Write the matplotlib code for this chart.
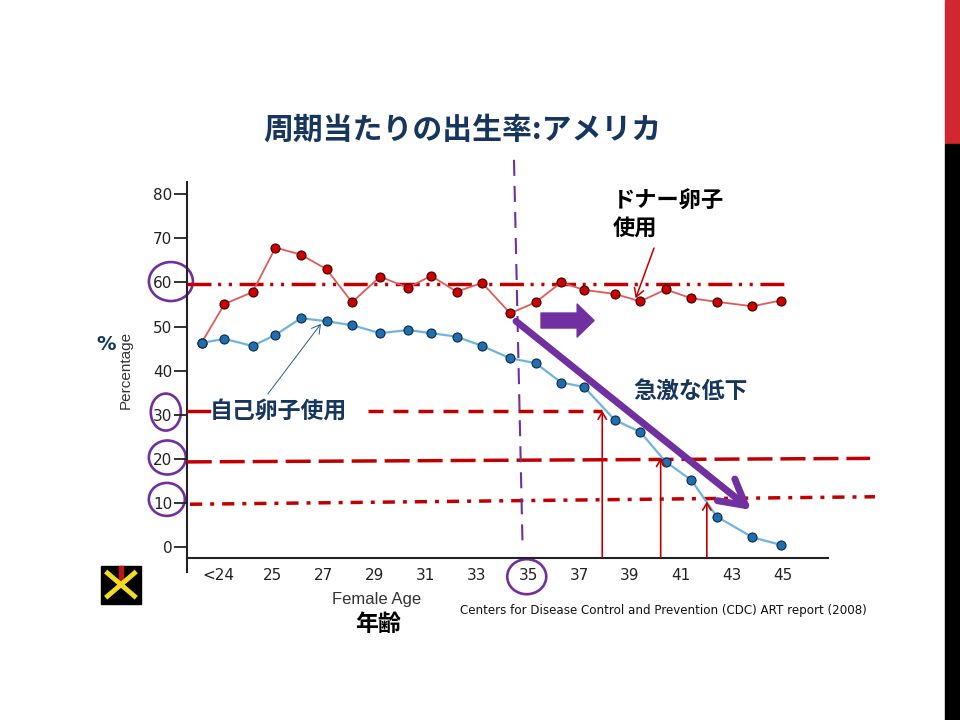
import matplotlib.pyplot as plt
from matplotlib.patches import Ellipse, Rectangle, FancyArrowPatch
from matplotlib.lines import Line2D

plt.rcParams['font.family'] = ['Noto Sans CJK JP', 'DejaVu Sans']

# age positions (it is not evenly spaced)
age_pos = [22.2, 23.1, 24.2, 25.1, 26.1, 27.1, 28.1, 29.2, 30.3, 31.2, 32.2, 33.2,
           34.3, 35.3, 36.3, 37.2, 38.4, 39.4, 40.4, 41.4, 42.4, 43.8, 44.9]
donor_eggs = [46.3, 55.1, 57.8, 67.9, 66.3, 63.0, 55.5, 61.3, 58.8, 61.5, 57.9, 59.9,
              53.0, 55.5, 60.0, 58.3, 57.4, 55.7, 58.4, 56.4, 55.6, 54.6, 55.9]
own_eggs = [46.3, 47.2, 45.6, 48.1, 51.9, 51.2, 50.3, 48.5, 49.2, 48.5, 47.7, 45.6,
            42.8, 41.7, 37.3, 36.3, 28.8, 26.1, 19.3, 15.2, 6.9, 2.2, 0.5]

xtick_pos = [22.85, 25, 27, 29, 31, 33, 35, 37, 39, 41, 43, 45]
xtick_labels = ['<24', '25', '27', '29', '31', '33', '35', '37', '39', '41', '43', '45']
ytick_pos = [0, 10, 20, 30, 40, 50, 60, 70, 80]

navy = '#17365d'
dred = '#c00000'
purple = '#7030a0'
tickfont = ['DejaVu Sans']

fig = plt.figure(figsize=(9.6, 7.2), dpi=100)
ax = fig.add_axes([0.1945, 0.225, 0.668, 0.5222])
ax.set_xlim(21.62, 46.76)
ax.set_ylim(-2.49, 82.77)

ax.plot(age_pos, donor_eggs, color='#e05a5a', lw=1.3, marker='o', ms=6.5,
        mfc='#cc0000', mec='#3a0000', mew=0.8, zorder=4)
ax.plot(age_pos, own_eggs, color='#6fb4e0', lw=1.6, marker='o', ms=6.5,
        mfc='#1f6fb0', mec='#0a2a45', mew=0.8, zorder=4)

for s in ['top', 'right']:
    ax.spines[s].set_visible(False)
for s in ['left', 'bottom']:
    ax.spines[s].set_linewidth(1.5)
    ax.spines[s].set_color('#222222')
ax.spines['left'].set_bounds(-5.7, 82.77)

ax.set_yticks(ytick_pos)
ax.set_yticklabels([str(v) for v in ytick_pos], family=tickfont, fontsize=11, color='#222222')
ax.set_xticks(xtick_pos)
ax.set_xticklabels(xtick_labels, family=tickfont, fontsize=11, color='#222222')
ax.tick_params(axis='y', length=9.5, width=1.3, pad=1, color='#222222')
ax.tick_params(axis='x', length=0, pad=7)

# reference lines
ax.plot([21.62, 45.27], [59.6, 59.6], color=dred, lw=2.5, dashes=(6.9, 1.9, 0.9, 2.2, 0.9, 2.2),
        zorder=3)
ax.plot([21.62, 22.49], [30.9, 30.9], color=dred, lw=2.5, zorder=3)
ax.plot([28.73, 37.9], [30.9, 30.9], color=dred, lw=2.5, dashes=(4.3, 2.9), zorder=3)
ax.plot([21.62, 48.41], [19.3, 20.1], color=dred, lw=2.5, dashes=(7.2, 2.3), zorder=3,
        clip_on=False)
ax.plot([21.75, 48.6], [9.7, 11.4], color=dred, lw=2.5, dashes=(3.5, 2.3, 1.15, 2.3),
        zorder=3, clip_on=False)

# age 35 marker
ax.plot([34.45, 34.79], [87.8, -0.7], color=purple, lw=1.5, dashes=(7.7, 4.8), clip_on=False,
        zorder=5)

# circles
for cx, cy, w, h in [(21.0, 60.2, 1.725, 8.84), (20.8, 30.6, 1.18, 8.39),
                     (20.86, 20.3, 1.45, 7.71), (20.84, 10.8, 1.41, 7.48),
                     (34.95, -6.73, 1.53, 7.94)]:
    ax.add_patch(Ellipse((cx, cy), w, h, fill=False, ec=purple, lw=1.9, clip_on=False))

# arrows
ax.add_patch(FancyArrowPatch((34.53, 51.2), (43.75, 8.4),
                             arrowstyle='->,head_length=0.9,head_width=0.5', mutation_scale=20,
                             color=purple, lw=5, shrinkA=0, shrinkB=0, zorder=6))
ax.add_patch(FancyArrowPatch((35.51, 51.36), (37.59, 51.36),
                             arrowstyle='simple,head_length=12.2,head_width=23.8,tail_width=10.8',
                             mutation_scale=1, color=purple, shrinkA=0, shrinkB=0, zorder=6))
for x, y in [(37.91, 30.9), (40.2, 20.2), (42.01, 10.3)]:
    ax.add_patch(FancyArrowPatch((x, -2.49), (x, y), arrowstyle='->,head_length=5,head_width=3',
                                 mutation_scale=1, color=dred, lw=1.2, shrinkA=0, shrinkB=0,
                                 zorder=5))
ax.add_patch(FancyArrowPatch((39.94, 67.8), (39.22, 56.4),
                             arrowstyle='->,head_length=6,head_width=3.5', mutation_scale=1,
                             color=dred, lw=1.1, shrinkA=0, shrinkB=0, zorder=5))
ax.add_patch(FancyArrowPatch((24.8, 34.7), (26.88, 50.6),
                             arrowstyle='->,head_length=6,head_width=3.5', mutation_scale=1,
                             color='#1f5f8f', lw=0.7, shrinkA=0, shrinkB=0, zorder=5))

# annotations
ax.text(38.33, 81.0, 'ドナー卵子\n使用', fontsize=16, fontweight='bold', color='black',
        va='top', ha='left', linespacing=1.25)
ax.text(22.53, 30.6, '自己卵子使用', fontsize=16.5, fontweight='bold', color=navy,
        va='center', ha='left')
ax.text(39.12, 35.1, '急激な低下', fontsize=16.5, fontweight='bold', color=navy,
        va='center', ha='left')

fig.text(0.482, 0.8194, '周期当たりの出生率:アメリカ', fontsize=21.5, fontweight='bold',
         color=navy, ha='center', va='center')
fig.text(0.1104, 0.5222, '%', fontsize=14, fontweight='bold', color=navy,
         ha='center', va='center', family=['DejaVu Sans'])
fig.text(0.1313, 0.4861, 'Percentage', fontsize=11, color='#333333', rotation=90,
         ha='center', va='center', family=['Liberation Sans', 'DejaVu Sans'])
fig.text(0.3927, 0.168, 'Female Age', fontsize=12, color='#333333', ha='center', va='center',
         family=['Liberation Sans', 'DejaVu Sans'])
fig.text(0.394, 0.132, '年齢', fontsize=16.5, fontweight='bold', color='black',
         ha='center', va='center')
fig.text(0.479, 0.1514, 'Centers for Disease Control and Prevention (CDC) ART report (2008)',
         fontsize=8.6, color='#111111', ha='left', va='center', family=['DejaVu Sans'])

# small logo
fig.add_artist(Rectangle((0.1052, 0.1611), 0.0417, 0.0528, transform=fig.transFigure,
                         color='black'))
fig.add_artist(Rectangle((0.1235, 0.195), 0.005, 0.019, transform=fig.transFigure,
                         color='#c0141c'))
fig.add_artist(Line2D([0.112, 0.14], [0.204, 0.172], transform=fig.transFigure,
                      color='#f2dc20', lw=3.5))
fig.add_artist(Line2D([0.112, 0.14], [0.172, 0.204], transform=fig.transFigure,
                      color='#f2dc20', lw=3.5))

# slide side bars
fig.add_artist(Rectangle((0.9844, 0.8), 0.0156, 0.2, transform=fig.transFigure,
                         color='#d0282e'))
fig.add_artist(Rectangle((0.9844, 0.0), 0.0156, 0.8, transform=fig.transFigure,
                         color='black'))

fig.savefig('out.png', dpi=100)
